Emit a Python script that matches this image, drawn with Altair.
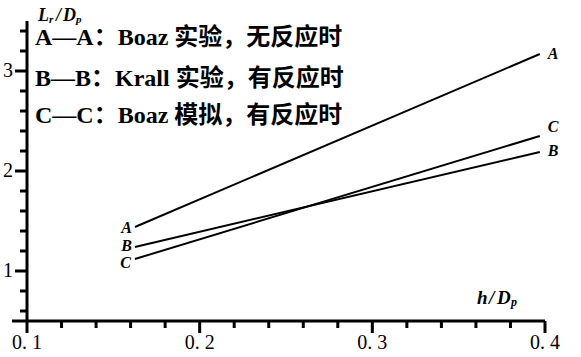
import altair as alt
import pandas as pd

# Straight-line fits of L_r/D_p against h/D_p for the three cases
series = ["A", "B", "C"]
h_start = [0.1625, 0.1625, 0.1625]
h_end = [0.397, 0.397, 0.397]
lr_start = [1.44, 1.24, 1.12]
lr_end = [3.17, 2.19, 2.35]

# Axis ticks: labelled major ticks and unlabelled minor ticks
x_major = [0.1, 0.2, 0.3, 0.4]
x_major_labels = ["0. 1", "0. 2", "0. 3", "0. 4"]
x_minor = [0.12, 0.14, 0.16, 0.18, 0.22, 0.24, 0.26, 0.28,
           0.32, 0.34, 0.36, 0.38]
y_major = [1, 2, 3]
y_major_labels = ["1", "2", "3"]
y_minor = [0.6, 0.8, 1.2, 1.4, 1.6, 1.8, 2.2, 2.4, 2.6, 2.8, 3.2, 3.4]

legend_lines = [
    "A—A：Boaz 实验，无反应时",
    "B—B：Krall 实验，有反应时",
    "C—C：Boaz 模拟，有反应时",
]

SERIF = "Liberation Serif, 'Noto Sans CJK SC', serif"
CW, CH = 581, 357

rows = []
for s, h0, h1, y0, y1 in zip(series, h_start, h_end, lr_start, lr_end):
    rows.append({"series": s, "h": h0, "lr": y0, "end": "start"})
    rows.append({"series": s, "h": h1, "lr": y1, "end": "stop"})
df = pd.DataFrame(rows)

# The scales span only part of the canvas so the hand-drawn axes fit around them
xs = alt.Scale(domain=[0.1, 0.4], range=[27, 545], nice=False, zero=False)
ys = alt.Scale(domain=[0.5, 3.5], range=[321, 21], nice=False, zero=False)
x_enc = alt.X("h:Q", scale=xs, axis=None)
y_enc = alt.Y("lr:Q", scale=ys, axis=None)

lines = alt.Chart(df).mark_line(color="black", strokeWidth=2).encode(
    x=x_enc, y=y_enc, detail="series:N"
)

# Axis lines
x_axis_line = (
    alt.Chart(alt.Data(values=[{}]))
    .mark_rule(color="black", strokeWidth=3, xOffset=-15)
    .encode(x=alt.X(datum=0.1, scale=xs, axis=None), x2=alt.X2(datum=0.4),
            y=alt.Y(datum=0.5, scale=ys, axis=None))
)
y_axis_line = (
    alt.Chart(alt.Data(values=[{}]))
    .mark_rule(color="black", strokeWidth=3)
    .encode(x=alt.X(datum=0.1, scale=xs, axis=None),
            y=alt.Y(datum=0.5, scale=ys, axis=None), y2=alt.Y2(datum=3.5))
)


def x_ticks(values, length):
    return (
        alt.Chart(pd.DataFrame({"h": values}))
        .mark_rule(color="black", strokeWidth=3, y2Offset=length)
        .encode(x=x_enc, y=alt.Y(datum=0.5, scale=ys, axis=None), y2=alt.Y2(datum=0.5))
    )


def y_ticks(values, length):
    return (
        alt.Chart(pd.DataFrame({"lr": values}))
        .mark_rule(color="black", strokeWidth=3, x2Offset=-length)
        .encode(y=y_enc, x=alt.X(datum=0.1, scale=xs, axis=None), x2=alt.X2(datum=0.1))
    )


x_tick_labels = (
    alt.Chart(pd.DataFrame({"h": x_major, "label": x_major_labels}))
    .mark_text(font=SERIF, fontSize=20, color="black", baseline="middle", dy=22)
    .encode(x=x_enc, y=alt.Y(datum=0.5, scale=ys, axis=None), text="label:N")
)
y_tick_labels = (
    alt.Chart(pd.DataFrame({"lr": y_major, "label": y_major_labels}))
    .mark_text(font=SERIF, fontSize=20, color="black", baseline="middle",
               align="right", dx=-14)
    .encode(y=y_enc, x=alt.X(datum=0.1, scale=xs, axis=None), text="label:N")
)

# Italic letters at both ends of each line
label_offsets = {
    ("A", "start"): (-3, 1, "right"),
    ("B", "start"): (-3, -1, "right"),
    ("C", "start"): (-4, 4, "right"),
    ("A", "stop"): (8, 0, "left"),
    ("C", "stop"): (8, -9, "left"),
    ("B", "stop"): (8, -1, "left"),
}
end_labels = []
for (s, side), (dx, dy, al) in label_offsets.items():
    end_labels.append(
        alt.Chart(df)
        .transform_filter(f"datum.series == '{s}' && datum.end == '{side}'")
        .mark_text(font=SERIF, fontSize=16, fontStyle="italic", fontWeight="bold",
                   color="black", align=al, baseline="middle", dx=dx, dy=dy)
        .encode(x=x_enc, y=y_enc, text="series:N")
    )


def note(text, x, y, size, style="normal", weight="normal"):
    return (
        alt.Chart(alt.Data(values=[{}]))
        .mark_text(text=text, font=SERIF, fontSize=size, fontStyle=style,
                   fontWeight=weight, align="left", baseline="middle", color="black")
        .encode(x=alt.value(x), y=alt.value(y))
    )


notes = []
for text, yy in zip(legend_lines, [38, 79, 116]):
    notes.append(note(text, 35, yy, 24, weight="bold"))

# Axis titles L_r/D_p and h/D_p with subscripts
notes += [
    note("L", 38, 16, 18, "italic", "bold"),
    note("r", 49, 20, 11, "italic", "bold"),
    note("/", 56, 16, 18, "italic", "bold"),
    note("D", 63, 16, 18, "italic", "bold"),
    note("p", 76, 20, 11, "italic", "bold"),
    note("h", 477, 298, 19, "italic", "bold"),
    note("/", 489, 298, 19, "italic", "bold"),
    note("D", 497, 298, 19, "italic", "bold"),
    note("p", 511, 302, 12, "italic", "bold"),
]

chart = (
    alt.layer(
        lines,
        x_axis_line, y_axis_line,
        x_ticks(x_major, 12), x_ticks(x_minor, 7),
        y_ticks(y_major, 12), y_ticks(y_minor, 7),
        x_tick_labels, y_tick_labels,
        *end_labels, *notes,
    )
    .properties(
        width=CW,
        height=CH,
        autosize=alt.AutoSizeParams(type="none"),
        padding=0,
    )
    .configure_view(stroke=None)
)

chart.save("out.html", embed_options={"renderer": "svg", "actions": False})
